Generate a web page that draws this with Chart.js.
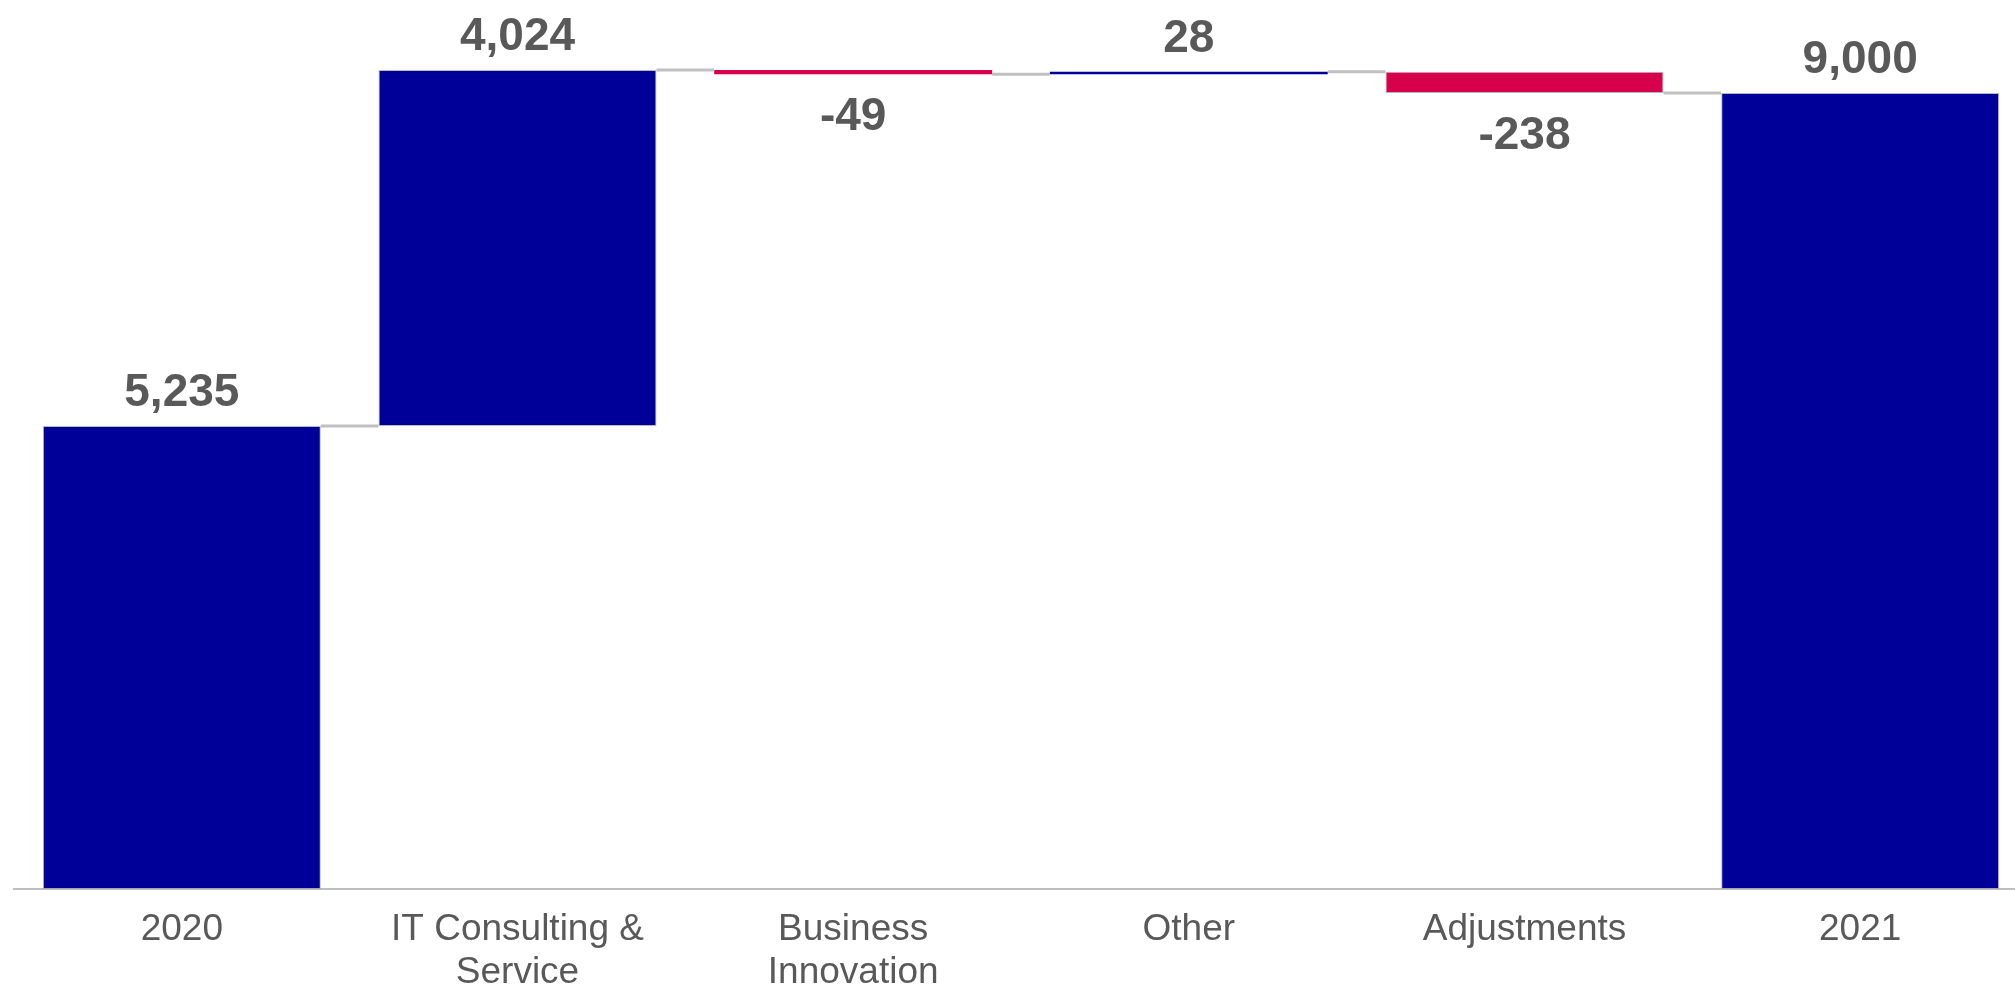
<!DOCTYPE html>
<html><head><meta charset="utf-8">
<script src="https://cdn.jsdelivr.net/npm/chart.js@4.4.1/dist/chart.umd.min.js"></script>
<style>
html,body{margin:0;padding:0;overflow:hidden;background:#fff;width:2015px;height:989px}
#wrap{position:absolute;left:0;top:0;width:2028px;height:989px}
</style></head><body>
<div id="wrap"><canvas id="c" width="2028" height="989"></canvas></div>
<script>
const categories = ['2020', ['IT Consulting &', 'Service'], ['Business', 'Innovation'], 'Other', 'Adjustments', '2021'];
const values = [5235, 4024, -49, 28, -238, 9000];
const isTotal = [true, false, false, false, false, true];
const valueLabels = ['5,235', '4,024', '-49', '28', '-238', '9,000'];

const BLUE = '#000099';
const RED = '#D6004B';

let run = 0;
const ranges = values.map((v, i) => {
  if (isTotal[i]) { run = v; return [0, v]; }
  const s = run; run += v; return [s, run];
});
const colors = values.map((v, i) => (isTotal[i] || v >= 0) ? BLUE : RED);
const borders = values.map(v => Math.abs(v) > 100 ? 1 : 0);

const waterfallExtras = {
  id: 'waterfallExtras',
  afterDatasetsDraw(chart) {
    const ctx = chart.ctx;
    const meta = chart.getDatasetMeta(0);
    const ys = chart.scales.y;
    ctx.save();
    ctx.strokeStyle = '#c0c0c0';
    ctx.lineWidth = 3;
    for (let i = 0; i < ranges.length - 1; i++) {
      const a = meta.data[i], b = meta.data[i + 1];
      const yy = ys.getPixelForValue(ranges[i][1]);
      ctx.beginPath();
      ctx.moveTo(a.x + a.width / 2, yy);
      ctx.lineTo(b.x - b.width / 2, yy);
      ctx.stroke();
    }
    ctx.fillStyle = '#595959';
    ctx.font = 'bold 46px "Liberation Sans", Arial, sans-serif';
    ctx.textAlign = 'center';
    ctx.textBaseline = 'alphabetic';
    for (let i = 0; i < ranges.length; i++) {
      const el = meta.data[i];
      const hi = ys.getPixelForValue(Math.max(ranges[i][0], ranges[i][1]));
      const lo = ys.getPixelForValue(Math.min(ranges[i][0], ranges[i][1]));
      if (values[i] >= 0) ctx.fillText(valueLabels[i], el.x, hi - 20);
      else ctx.fillText(valueLabels[i], el.x, lo + 56);
    }
    ctx.restore();
  }
};

new Chart(document.getElementById('c'), {
  type: 'bar',
  data: {
    labels: categories,
    datasets: [{
      data: ranges,
      backgroundColor: colors,
      borderColor: 'rgba(150,150,170,0.7)',
      borderWidth: borders,
      borderSkipped: false,
      categoryPercentage: 1,
      barPercentage: 0.828
    }]
  },
  options: {
    responsive: false,
    animation: false,
    devicePixelRatio: 1,
    layout: { padding: { left: 14, right: 0, top: 0, bottom: 0 } },
    plugins: { legend: { display: false }, tooltip: { enabled: false } },
    scales: {
      x: {
        grid: { display: false, drawTicks: false },
        border: { display: true, color: '#bfbfbf', width: 2 },
        ticks: {
          color: '#595959',
          font: { family: '"Liberation Sans", Arial, sans-serif', size: 37, lineHeight: 1.15 },
          padding: 20, maxRotation: 0, autoSkip: false
        },
        afterFit: s => { s.height = 100; }
      },
      y: { display: false, min: 0, max: 10050 }
    }
  },
  plugins: [waterfallExtras]
});
</script>
</body></html>
